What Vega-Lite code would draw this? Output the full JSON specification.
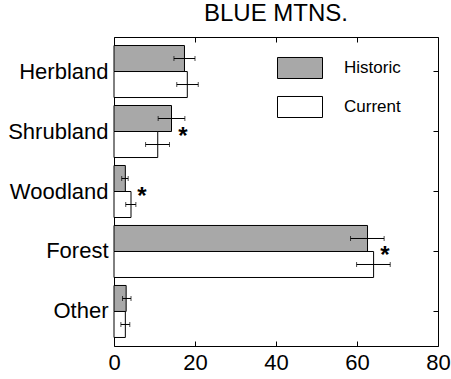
{
  "$schema": "https://vega.github.io/schema/vega-lite/v6.json",
  "width": 324,
  "height": 309,
  "autosize": "none",
  "padding": {"left": 114, "top": 37, "right": 13, "bottom": 33},
  "background": "white",
  "title": {"text": "BLUE MTNS.", "fontSize": 24, "fontWeight": "normal", "font": "Liberation Sans", "anchor": "middle", "offset": 11, "color": "black"},
  "config": {
    "view": {"stroke": "black", "strokeWidth": 1},
    "font": "Liberation Sans",
    "axis": {"labelColor": "black", "tickColor": "black", "domainColor": "black", "grid": false, "labelFont": "Liberation Sans"},
    "legend": {"labelFont": "Liberation Sans", "labelColor": "black"}
  },
  "datasets": {
    "bars": [
      {"category": "Herbland", "series": "Historic", "value": 17.4, "lo": 14.8, "hi": 20.0},
      {"category": "Herbland", "series": "Current", "value": 18.1, "lo": 15.5, "hi": 20.8},
      {"category": "Shrubland", "series": "Historic", "value": 14.2, "lo": 10.9, "hi": 17.5},
      {"category": "Shrubland", "series": "Current", "value": 10.8, "lo": 7.8, "hi": 13.7},
      {"category": "Woodland", "series": "Historic", "value": 2.8, "lo": 1.9, "hi": 3.5},
      {"category": "Woodland", "series": "Current", "value": 4.2, "lo": 2.9, "hi": 5.4},
      {"category": "Forest", "series": "Historic", "value": 62.6, "lo": 58.4, "hi": 66.7},
      {"category": "Forest", "series": "Current", "value": 64.1, "lo": 59.9, "hi": 68.2},
      {"category": "Other", "series": "Historic", "value": 3.0, "lo": 2.1, "hi": 4.2},
      {"category": "Other", "series": "Current", "value": 2.8, "lo": 1.7, "hi": 3.9}
    ],
    "stars": [
      {"category": "Shrubland", "x": 17.0, "label": "*"},
      {"category": "Woodland", "x": 6.9, "label": "*"},
      {"category": "Forest", "x": 66.9, "label": "*"}
    ]
  },
  "layer": [
    {
      "data": {"name": "bars"},
      "mark": {"type": "bar", "stroke": "black", "strokeWidth": 1, "opacity": 1},
      "encoding": {
        "y": {"field": "category", "type": "nominal", "sort": ["Herbland", "Shrubland", "Woodland", "Forest", "Other"],
              "scale": {"paddingInner": 0.133, "paddingOuter": 0.142},
              "axis": {"orient": "left", "title": null, "ticks": false, "domain": false, "labelFontSize": 22, "labelPadding": 6}},
        "x": {"field": "value", "type": "quantitative", "scale": {"domain": [0, 80], "nice": false},
              "axis": {"orient": "bottom", "title": null, "values": [0, 20, 40, 60, 80], "tickSize": -5, "domain": false, "labelFontSize": 22, "labelPadding": 11, "labelFlush": false}},
        "yOffset": {"field": "series", "type": "nominal", "sort": ["Historic", "Current"], "scale": {"paddingInner": 0, "paddingOuter": 0}},
        "fill": {"field": "series", "type": "nominal", "sort": ["Historic", "Current"],
                 "scale": {"domain": ["Historic", "Current"], "range": ["#a8a8a8", "white"]},
                 "legend": {"title": null, "orient": "none", "legendX": 163, "legendY": 8, "symbolType": "M-1,-0.467H1V0.467H-1Z", "symbolSize": 2025, "symbolStrokeColor": "black", "symbolStrokeWidth": 1, "symbolOpacity": 1, "labelFontSize": 17, "labelOffset": 21, "rowPadding": 3, "padding": 0}}
      }
    },
    {
      "data": {"name": "bars"},
      "mark": {"type": "rule", "color": "black", "strokeWidth": 1},
      "encoding": {
        "y": {"field": "category", "type": "nominal", "sort": ["Herbland", "Shrubland", "Woodland", "Forest", "Other"],
              "axis": {"orient": "right", "title": null, "labels": false, "domain": false, "tickSize": -5}},
        "yOffset": {"field": "series", "type": "nominal", "sort": ["Historic", "Current"]},
        "x": {"field": "lo", "type": "quantitative",
              "axis": {"orient": "top", "title": null, "labels": false, "domain": false, "values": [0, 20, 40, 60, 80], "tickSize": -5}},
        "x2": {"field": "hi"}
      }
    },
    {
      "data": {"name": "bars"},
      "mark": {"type": "tick", "color": "black", "thickness": 1, "size": 5, "orient": "vertical"},
      "encoding": {
        "y": {"field": "category", "type": "nominal", "sort": ["Herbland", "Shrubland", "Woodland", "Forest", "Other"], "axis": null},
        "yOffset": {"field": "series", "type": "nominal", "sort": ["Historic", "Current"]},
        "x": {"field": "lo", "type": "quantitative", "axis": null}
      }
    },
    {
      "data": {"name": "bars"},
      "mark": {"type": "tick", "color": "black", "thickness": 1, "size": 5, "orient": "vertical"},
      "encoding": {
        "y": {"field": "category", "type": "nominal", "sort": ["Herbland", "Shrubland", "Woodland", "Forest", "Other"], "axis": null},
        "yOffset": {"field": "series", "type": "nominal", "sort": ["Historic", "Current"]},
        "x": {"field": "hi", "type": "quantitative", "axis": null}
      }
    },
    {
      "data": {"name": "stars"},
      "mark": {"type": "text", "fontSize": 24, "fontWeight": "bold", "align": "center", "baseline": "alphabetic", "dy": 12, "color": "black"},
      "encoding": {
        "y": {"field": "category", "type": "nominal", "sort": ["Herbland", "Shrubland", "Woodland", "Forest", "Other"], "axis": null},
        "x": {"field": "x", "type": "quantitative", "axis": null},
        "text": {"field": "label"}
      }
    }
  ],
  "resolve": {"axis": {"x": "independent", "y": "independent"}}
}
